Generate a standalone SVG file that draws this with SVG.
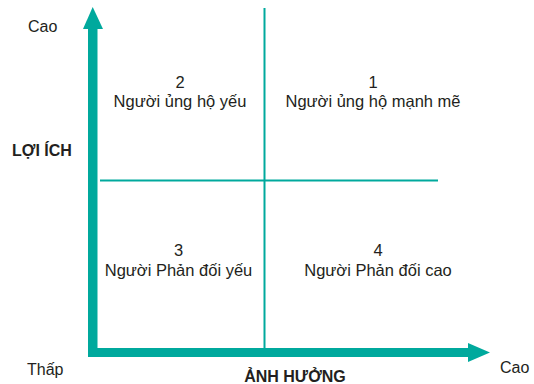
<svg xmlns="http://www.w3.org/2000/svg" width="534" height="384" viewBox="0 0 534 384">
<style>
text{font-family:"Liberation Sans",Arial,sans-serif;fill:#231f20;}
.ax{font-size:16px;}
.bold{font-size:16px;font-weight:bold;}
.q{font-size:16.5px;text-anchor:middle;}
.axis{fill:#00a99d;}
.div{stroke:#00a99d;stroke-width:2;fill:none;}
</style>
<rect width="534" height="384" fill="#fff"/>
<g id="connectors">
<line class="div" x1="264.5" y1="8" x2="264.5" y2="348"/>
<line class="div" x1="100" y1="180.5" x2="438" y2="180.5"/>
</g>
<g id="y-axis">
<rect class="axis" x="88" y="27" width="9.5" height="330"/>
<polygon class="axis" points="83,29 92.7,7 103,29"/>
</g>
<g id="x-axis">
<rect class="axis" x="88" y="348" width="381" height="9"/>
<polygon class="axis" points="468,343 490,352.5 468,362"/>
</g>
<g id="labels">
<text class="ax" x="28" y="32">Cao</text>
<text class="bold" x="12" y="156">LỢI ÍCH</text>
<text class="ax" x="27" y="375">Thấp</text>
<text class="bold" x="295" y="382" text-anchor="middle">ẢNH HƯỞNG</text>
<text class="ax" x="500" y="373">Cao</text>
</g>
<g id="q2">
<text class="q" x="180" y="88">2</text>
<text class="q" x="180" y="107">Người ủng hộ yếu</text>
</g>
<g id="q1">
<text class="q" x="373" y="88">1</text>
<text class="q" x="373" y="107">Người ủng hộ mạnh mẽ</text>
</g>
<g id="q3">
<text class="q" x="178.5" y="256">3</text>
<text class="q" x="178.5" y="276">Người Phản đối yếu</text>
</g>
<g id="q4">
<text class="q" x="378" y="256">4</text>
<text class="q" x="378" y="276">Người Phản đối cao</text>
</g>
</svg>
